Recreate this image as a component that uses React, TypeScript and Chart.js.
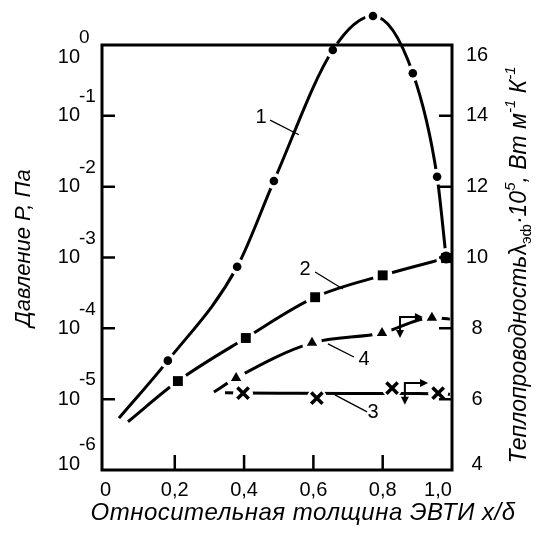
import { useEffect, useRef } from "react";
import { Chart, registerables } from "chart.js";

Chart.register(...registerables);

// ---- axes ----
const xTickValues = [0, 0.2, 0.4, 0.6, 0.8, 1.0];
const xTickLabels = ["0", "0,2", "0,4", "0,6", "0,8", "1,0"];
const pressureTickExponents = [0, -1, -2, -3, -4, -5, -6];
const conductivityTicks = [16, 14, 12, 10, 8, 6, 4];

// ---- curve 1 (pressure, left axis) ----
const curve1X = [0.039, 0.18, 0.38, 0.486, 0.656, 0.772, 0.887, 0.957, 0.983];
const curve1P = [5.4e-6, 3.5e-5, 7.4e-4, 1.2e-2, 0.85, 2.57, 0.4, 1.38e-2, 1.0e-3];
const curve1Marked = [false, true, true, true, true, true, true, true, true];

// ---- curve 2 (pressure, left axis) ----
const curve2X = [0.065, 0.209, 0.405, 0.605, 0.8, 0.983];
const curve2P = [4.8e-6, 1.8e-5, 7.3e-5, 2.75e-4, 5.6e-4, 9.8e-4];
const curve2Marked = [false, true, true, true, true, true];

// ---- curve 4 (conductivity, right axis) ----
const curve4X = [0.313, 0.377, 0.596, 0.798, 0.942, 0.994];
const curve4L = [6.2, 6.6, 7.59, 7.87, 8.3, 8.26];
const curve4Marked = [false, true, true, true, true, false];

// ---- curve 3 (conductivity, right axis) ----
const curve3LineX = [0.345, 0.5, 0.7, 0.9, 0.994];
const curve3LineL = [6.18, 6.17, 6.16, 6.16, 6.14];
const curve3PointX = [0.397, 0.61, 0.827, 0.96];
const curve3PointL = [6.17, 6.03, 6.31, 6.17];

// ---- curve labels with leader lines ----
const labelTexts = ["1", "2", "3", "4"];
const labelAxes = ["yP", "yP", "yL", "yL"];
const labelX = [0.449, 0.576, 0.772, 0.746];
const labelY = [0.0933, 6.67e-4, 5.61, 7.13];
const leaderX0 = [0.475, 0.605, 0.662, 0.642];
const leaderY0 = [0.087, 6.24e-4, 6.12, 7.56];
const leaderX1 = [0.558, 0.685, 0.755, 0.717];
const leaderY1 = [0.054, 3.59e-4, 5.64, 7.19];

// ---- axis-indicating arrows (right axis) ----
const arrowCornerX = [0.85, 0.864];
const arrowCornerL = [8.32, 6.46];
const arrowRightX = [0.916, 0.931];
const arrowDownL = [7.73, 5.84];

const FONT = "'Liberation Sans', Arial, sans-serif";

type P = { x: number; y: number };
const pts = (xs: number[], ys: number[], keep?: boolean[]): P[] =>
  xs.map((x, i) => ({ x, y: ys[i] })).filter((_, i) => !keep || keep[i]);

const lineDs = (data: P[], axis: string) => ({
  data,
  yAxisID: axis,
  showLine: true,
  borderColor: "#000",
  borderWidth: 3,
  pointRadius: 0,
  pointHoverRadius: 0,
  cubicInterpolationMode: "monotone",
  capBezierPoints: false,
  clip: false,
});

const markerDs = (data: P[], axis: string, style: string, r: number | number[], halo: number, bw = 0) => ({
  data,
  yAxisID: axis,
  showLine: false,
  pointStyle: style,
  pointRadius: r,
  pointHoverRadius: r,
  pointBackgroundColor: "#000",
  pointBorderColor: "#000",
  pointBorderWidth: bw,
  clip: false,
  haloRadius: halo,
});

// white gaps around markers, then markers redrawn on top (through Chart.js elements)
const haloPlugin = {
  id: "halo",
  afterDatasetsDraw(chart: any) {
    const ctx = chart.ctx;
    const big = { left: -1e4, right: 1e4, top: -1e4, bottom: 1e4 };
    ctx.save();
    ctx.fillStyle = "#ffffff";
    chart.data.datasets.forEach((ds: any, i: number) => {
      if (!ds.haloRadius) return;
      chart.getDatasetMeta(i).data.forEach((el: any) => {
        ctx.beginPath();
        ctx.arc(el.x, el.y, ds.haloRadius, 0, Math.PI * 2);
        ctx.fill();
      });
    });
    ctx.restore();
    chart.data.datasets.forEach((ds: any, i: number) => {
      if (!ds.haloRadius) return;
      chart.getDatasetMeta(i).data.forEach((el: any) => {
        ctx.save();
        el.draw(ctx, big);
        ctx.restore();
      });
    });
  },
};

function arrowHead(ctx: CanvasRenderingContext2D, x: number, y: number, dx: number, dy: number) {
  const len = 8;
  const hw = 4;
  const px = -dy;
  const py = dx;
  ctx.beginPath();
  ctx.moveTo(x, y);
  ctx.lineTo(x - dx * len + px * hw, y - dy * len + py * hw);
  ctx.lineTo(x - dx * len - px * hw, y - dy * len - py * hw);
  ctx.closePath();
  ctx.fill();
}

const decor = {
  id: "decor",
  afterDraw(chart: any) {
    const { ctx, chartArea: a, scales } = chart;
    const xs = scales.x;
    const yp = scales.yP;
    const yl = scales.yL;
    const clamp = (v: number, lo: number, hi: number) => Math.max(lo, Math.min(hi, v));
    ctx.save();
    ctx.strokeStyle = "#000";
    ctx.fillStyle = "#000";

    // frame
    ctx.lineWidth = 3;
    ctx.strokeRect(a.left, a.top, a.right - a.left, a.bottom - a.top);

    // inward ticks
    ctx.lineWidth = 2.5;
    ctx.beginPath();
    pressureTickExponents.forEach((e) => {
      if (e === 0 || e === -6) return;
      const y = yp.getPixelForValue(Math.pow(10, e));
      ctx.moveTo(a.left, y);
      ctx.lineTo(a.left + 13, y);
    });
    conductivityTicks.forEach((v) => {
      if (v === 4 || v === 16) return;
      const y = yl.getPixelForValue(v);
      ctx.moveTo(a.right, y);
      ctx.lineTo(a.right - 13, y);
    });
    xTickValues.forEach((v) => {
      if (v <= 0 || v >= 1) return;
      const x = xs.getPixelForValue(v);
      ctx.moveTo(x, a.bottom);
      ctx.lineTo(x, a.bottom - 15);
    });
    ctx.stroke();

    // left tick labels 10^n
    pressureTickExponents.forEach((e) => {
      const ty = yp.getPixelForValue(Math.pow(10, e));
      const by = clamp(ty, a.top + 12, a.bottom - 6);
      ctx.font = `20px ${FONT}`;
      ctx.textAlign = "right";
      ctx.textBaseline = "middle";
      ctx.fillText("10", a.left - 22, by);
      ctx.font = `19px ${FONT}`;
      ctx.textAlign = "left";
      ctx.fillText(String(e), a.left - 23, by - 19);
    });

    // right tick labels
    ctx.font = `20px ${FONT}`;
    ctx.textAlign = "center";
    ctx.textBaseline = "middle";
    conductivityTicks.forEach((v) => {
      const ty = yl.getPixelForValue(v);
      ctx.fillText(String(v), a.right + 25, clamp(ty, a.top + 10, a.bottom - 6));
    });

    // x tick labels
    xTickValues.forEach((v, i) => {
      const x = Math.min(xs.getPixelForValue(v), a.right - 14);
      ctx.fillText(xTickLabels[i], x, a.bottom + 20);
    });

    // x title
    ctx.save();
    ctx.font = `italic 24px ${FONT}`;
    (ctx as any).letterSpacing = "0.5px";
    ctx.fillText("Относительная толщина ЭВТИ х/δ", a.left + 201, a.bottom + 43);
    ctx.restore();

    // left title
    ctx.save();
    ctx.translate(a.left - 78, a.top + 203);
    ctx.rotate(-Math.PI / 2);
    ctx.font = `italic 22px ${FONT}`;
    ctx.textAlign = "center";
    ctx.textBaseline = "middle";
    ctx.fillText("Давление Р, Па", 0, 0);
    ctx.restore();

    // right title (rich text)
    const segs = [
      { t: "Теплопроводность", f: `italic 23px ${FONT}`, dy: 0 },
      { t: "λ", f: `23px ${FONT}`, dy: 0 },
      { t: "эф", f: `15px ${FONT}`, dy: 5 },
      { t: "·10", f: `italic 23px ${FONT}`, dy: 0 },
      { t: "5", f: `italic 15px ${FONT}`, dy: -11 },
      { t: ", Вт м", f: `italic 23px ${FONT}`, dy: 0 },
      { t: "-1", f: `italic 15px ${FONT}`, dy: -11 },
      { t: " К", f: `italic 23px ${FONT}`, dy: 0 },
      { t: "-1", f: `italic 15px ${FONT}`, dy: -11 },
    ];
    ctx.save();
    ctx.translate(a.right + 67, a.top + 220);
    ctx.rotate(-Math.PI / 2);
    ctx.textAlign = "left";
    ctx.textBaseline = "alphabetic";
    let total = 0;
    segs.forEach((s) => {
      ctx.font = s.f;
      total += ctx.measureText(s.t).width;
    });
    let cx = -total / 2;
    segs.forEach((s) => {
      ctx.font = s.f;
      ctx.fillText(s.t, cx, 7 + s.dy);
      cx += ctx.measureText(s.t).width;
    });
    ctx.restore();

    // curve labels & leaders
    ctx.font = `20px ${FONT}`;
    ctx.textAlign = "center";
    ctx.textBaseline = "middle";
    ctx.lineWidth = 1.3;
    labelTexts.forEach((t, i) => {
      const sc = scales[labelAxes[i]];
      ctx.fillText(t, xs.getPixelForValue(labelX[i]), sc.getPixelForValue(labelY[i]));
      ctx.beginPath();
      ctx.moveTo(xs.getPixelForValue(leaderX0[i]), sc.getPixelForValue(leaderY0[i]));
      ctx.lineTo(xs.getPixelForValue(leaderX1[i]), sc.getPixelForValue(leaderY1[i]));
      ctx.stroke();
    });

    // arrows
    ctx.lineWidth = 2;
    arrowCornerX.forEach((x0, i) => {
      const cxp = xs.getPixelForValue(x0);
      const cyp = yl.getPixelForValue(arrowCornerL[i]);
      const rx = xs.getPixelForValue(arrowRightX[i]);
      const dyp = yl.getPixelForValue(arrowDownL[i]);
      ctx.beginPath();
      ctx.moveTo(rx - 6, cyp);
      ctx.lineTo(cxp, cyp);
      ctx.lineTo(cxp, dyp - 6);
      ctx.stroke();
      arrowHead(ctx, rx, cyp, 1, 0);
      arrowHead(ctx, cxp, dyp, 0, 1);
    });

    ctx.restore();
  },
};

export default function App() {
  const ref = useRef<HTMLCanvasElement>(null);
  useEffect(() => {
    const c1Radii = pts(curve1X, curve1P, curve1Marked).map((_, i, arr) => (i === arr.length - 1 ? 6 : 4.3));

    const chart = new Chart(ref.current as HTMLCanvasElement, {
      type: "scatter",
      data: {
        datasets: [
          lineDs(pts(curve1X, curve1P), "yP"),
          lineDs(pts(curve2X, curve2P), "yP"),
          lineDs(pts(curve4X, curve4L), "yL"),
          lineDs(pts(curve3LineX, curve3LineL), "yL"),
          markerDs(pts(curve1X, curve1P, curve1Marked), "yP", "circle", c1Radii, 8),
          markerDs(pts(curve2X, curve2P, curve2Marked), "yP", "rect", 7, 10),
          markerDs(pts(curve4X, curve4L, curve4Marked), "yL", "triangle", 6, 10),
          markerDs(pts(curve3PointX, curve3PointL), "yL", "crossRot", 8, 10, 3.5),
        ] as any,
      },
      options: {
        responsive: false,
        animation: false,
        events: [],
        devicePixelRatio: 1,
        layout: { padding: { top: 37, left: 0, right: 0, bottom: 0 } },
        plugins: { legend: { display: false }, tooltip: { enabled: false } },
        scales: {
          x: {
            type: "linear",
            min: -0.01,
            max: 1.0,
            grid: { display: false },
            border: { display: false },
            ticks: { display: false },
            afterFit: (s: any) => {
              s.height = 56;
            },
          },
          yP: {
            type: "logarithmic",
            position: "left",
            min: 1e-6,
            max: 1,
            grid: { display: false },
            border: { display: false },
            ticks: { display: false },
            afterFit: (s: any) => {
              s.width = 94;
            },
          },
          yL: {
            type: "linear",
            position: "right",
            min: 4,
            max: 16,
            grid: { display: false },
            border: { display: false },
            ticks: { display: false },
            afterFit: (s: any) => {
              s.width = 79;
            },
          },
        },
      } as any,
      plugins: [haloPlugin, decor],
    });
    return () => chart.destroy();
  }, []);
  return <canvas ref={ref} width={523} height={518} style={{ display: "block" }} />;
}
